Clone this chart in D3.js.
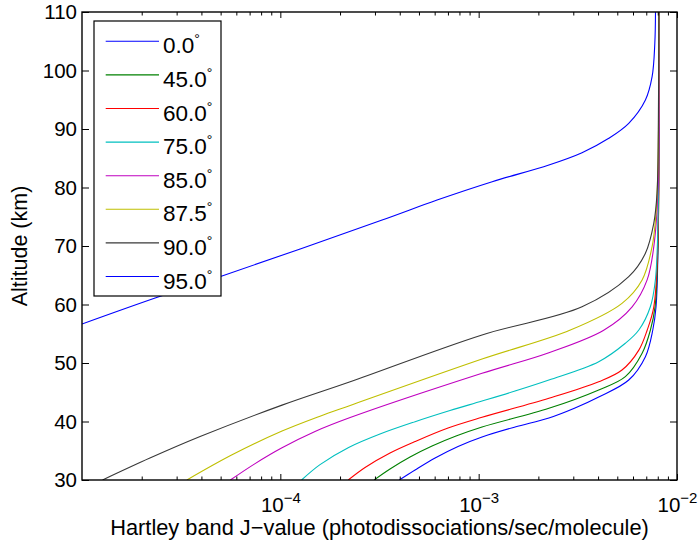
<!DOCTYPE html>
<html>
<head>
<meta charset="utf-8">
<script src="https://cdn.jsdelivr.net/npm/d3@7"></script>
<style>
  body { margin: 0; background: #fff; }
  svg { display: block; font-family: "Liberation Sans", Arial, sans-serif; }
</style>
</head>
<body>
<div id="chart"></div>
<script>
// solar zenith angles and line colours (MATLAB default order)
const zenith_labels = ["0.0", "45.0", "60.0", "75.0", "85.0", "87.5", "90.0", "95.0"];
const line_colors = ["#0000ff", "#008000", "#ff0000", "#00bfbf", "#bf00bf", "#bfbf00", "#383838", "#0000ff"];

const alt_ticks = [30, 40, 50, 60, 70, 80, 90, 100, 110];
const j_ticks = [1e-4, 1e-3, 1e-2];
const j_exponents = ["\u22124", "\u22123", "\u22122"];

// [altitude km, J-value]
const profile_00 = [[30, 3.98e-4], [31.71, 4.78e-4], [33.76, 6.03e-4], [35.73, 7.87e-4], [37.35, 1.04e-3],
  [39.06, 1.526e-3], [40.6, 2.26e-3], [42.31, 3.06e-3], [44.19, 4.03e-3], [47.09, 5.71e-3], [51.08, 6.93e-3],
  [55.64, 7.55e-3], [59.62, 7.84e-3], [70, 8.02e-3], [110, 8.1e-3]];
const profile_45 = [[30, 2.97e-4], [31.88, 3.573e-4], [33.93, 4.508e-4], [35.81, 5.82e-4], [37.52, 7.69e-4],
  [39.06, 1.04e-3], [42.26, 2.26e-3], [45.4, 4.03e-3], [47.66, 5.49e-3], [51.66, 6.67e-3], [55.6, 7.34e-3],
  [59.6, 7.75e-3], [70, 8.02e-3], [110, 8.1e-3]];
const profile_60 = [[30, 2.2e-4], [32.14, 2.674e-4], [34.62, 3.573e-4], [36.58, 4.78e-4], [38.89, 7.01e-4],
  [40.72, 1.04e-3], [43.97, 2.26e-3], [46.8, 4.03e-3], [48.8, 5.28e-3], [52.2, 6.42e-3], [55.6, 7.07e-3],
  [59.6, 7.64e-3], [70, 8.0e-3], [110, 8.1e-3]];
const profile_75 = [[30, 1.28e-4], [32.62, 1.585e-4], [35.56, 2.21e-4], [37.86, 3.18e-4], [39.97, 4.78e-4],
  [41.88, 7.17e-4], [43.5, 1.04e-3], [45.21, 1.526e-3], [47.09, 2.26e-3], [50.22, 4.03e-3], [53.37, 5.49e-3],
  [55.64, 6.42e-3], [59.62, 7.34e-3], [64.19, 7.78e-3], [75, 8.03e-3], [110, 8.1e-3]];
const profile_85 = [[30, 5.6e-5], [32.8, 7.46e-5], [35.5, 1.02e-4], [38.29, 1.496e-4], [40.67, 2.25e-4],
  [48.24, 1.04e-3], [51.76, 2.26e-3], [55.6, 4.27e-3], [59.6, 5.94e-3], [64.2, 7.07e-3], [69.9, 7.64e-3],
  [80, 8.03e-3], [110, 8.1e-3]];
const profile_875 = [[30, 3.38e-5], [34.3, 5.71e-5], [38.36, 1.02e-4], [40.91, 1.585e-4], [42.75, 2.25e-4],
  [50.68, 1.04e-3], [55.64, 2.9e-3], [60.2, 5.28e-3], [64.2, 6.67e-3], [69.9, 7.49e-3], [75.6, 7.84e-3],
  [85, 8.03e-3], [110, 8.1e-3]];
const profile_90 = [[30, 1.27e-5], [33.74, 2.2e-5], [37.42, 3.94e-5], [42.8, 1.02e-4], [46.8, 2.25e-4],
  [54.8, 1.04e-3], [59.6, 3.32e-3], [64.75, 5.71e-3], [68.75, 6.93e-3], [73.9, 7.64e-3], [79, 7.93e-3],
  [90, 8.05e-3], [110, 8.1e-3]];
const profile_95 = [[56.67, 1.0e-5], [61.33, 2.44e-5], [64.87, 5.08e-5], [74.44, 3.26e-4], [77.86, 6.17e-4],
  [80.99, 1.17e-3], [83.85, 2.26e-3], [85.95, 3.32e-3], [88.41, 4.53e-3], [90.97, 5.71e-3], [94.96, 6.93e-3],
  [98.94, 7.49e-3], [104.65, 7.73e-3], [110, 7.79e-3]];

const profiles = [profile_00, profile_45, profile_60, profile_75, profile_85, profile_875, profile_90, profile_95];

const width = 699;
const height = 546;
const margin = { top: 12, right: 22, bottom: 66, left: 82 };

const svg = d3.select("#chart").append("svg")
  .attr("width", width)
  .attr("height", height);

svg.append("rect").attr("width", width).attr("height", height).attr("fill", "#fff");

const x = d3.scaleLog()
  .domain([1e-5, 1e-2])
  .range([margin.left, width - margin.right]);

const y = d3.scaleLinear()
  .domain([30, 110])
  .range([height - margin.bottom, margin.top]);

// minor ticks 2..9 in each decade
const minor_ticks = [];
[1e-5, 1e-4, 1e-3].forEach((d) => {
  for (let k = 2; k <= 9; k++) minor_ticks.push(d * k);
});

svg.append("clipPath").attr("id", "plot-clip")
  .append("rect")
  .attr("x", margin.left).attr("y", margin.top)
  .attr("width", width - margin.left - margin.right)
  .attr("height", height - margin.top - margin.bottom);

const line = d3.line()
  .x((d) => x(d[1]))
  .y((d) => y(d[0]))
  .curve(d3.curveCatmullRom.alpha(0.5));

svg.append("g")
  .attr("clip-path", "url(#plot-clip)")
  .selectAll("path")
  .data(profiles)
  .join("path")
  .attr("fill", "none")
  .attr("stroke", (d, i) => line_colors[i])
  .attr("stroke-width", 1.1)
  .attr("d", line);

// axes: ticks point inward on all four sides
function strip(g) {
  g.select(".domain").remove();
  g.selectAll(".tick line").attr("stroke", "#000").attr("stroke-width", 1);
}

const bottom = height - margin.bottom;
const right = width - margin.right;

svg.append("g")
  .attr("transform", `translate(0,${bottom})`)
  .call(d3.axisBottom(x).tickValues(minor_ticks).tickSize(-3.5).tickFormat(""))
  .call(strip);
svg.append("g")
  .attr("transform", `translate(0,${margin.top})`)
  .call(d3.axisTop(x).tickValues(minor_ticks).tickSize(-3.5).tickFormat(""))
  .call(strip);
svg.append("g")
  .attr("transform", `translate(0,${margin.top})`)
  .call(d3.axisTop(x).tickValues(j_ticks).tickSize(-6).tickFormat(""))
  .call(strip);

const x_axis = svg.append("g")
  .attr("transform", `translate(0,${bottom})`)
  .call(d3.axisBottom(x).tickValues(j_ticks).tickSize(-6))
  .call(strip);

x_axis.selectAll(".tick text")
  .attr("y", 31.7)
  .attr("dy", null)
  .attr("fill", "#000")
  .style("font-size", "20.5px")
  .each(function (d, i) {
    const t = d3.select(this);
    t.text(null);
    t.append("tspan").text("10");
    t.append("tspan").attr("dy", -8.5).style("font-size", "15px").text(j_exponents[i]);
  });

svg.append("g")
  .attr("transform", `translate(${margin.left},0)`)
  .call(d3.axisLeft(y).tickValues(alt_ticks).tickSize(-7).tickPadding(5))
  .call(strip)
  .selectAll(".tick text")
  .attr("fill", "#000")
  .style("font-size", "20.5px");

svg.append("g")
  .attr("transform", `translate(${right},0)`)
  .call(d3.axisRight(y).tickValues(alt_ticks).tickSize(-7).tickFormat(""))
  .call(strip);

// box
svg.append("rect")
  .attr("x", margin.left).attr("y", margin.top)
  .attr("width", right - margin.left)
  .attr("height", bottom - margin.top)
  .attr("fill", "none")
  .attr("stroke", "#000")
  .attr("stroke-width", 1.4);

// axis titles
svg.append("text")
  .attr("x", (margin.left + right) / 2)
  .attr("y", 535)
  .attr("text-anchor", "middle")
  .style("font-size", "21.8px")
  .text("Hartley band J\u2212value (photodissociations/sec/molecule)");

svg.append("text")
  .attr("transform", `translate(27,${(margin.top + bottom) / 2}) rotate(-90)`)
  .attr("text-anchor", "middle")
  .style("font-size", "21.5px")
  .text("Altitude (km)");

// legend
const legend = svg.append("g");
legend.append("rect")
  .attr("x", 94).attr("y", 21)
  .attr("width", 127).attr("height", 275)
  .attr("fill", "#fff")
  .attr("stroke", "#000")
  .attr("stroke-width", 1.2);

const entry = legend.selectAll("g.entry")
  .data(zenith_labels)
  .join("g")
  .attr("class", "entry")
  .attr("transform", (d, i) => `translate(0,${41.3 + 33.6 * i})`);

entry.append("line")
  .attr("x1", 105.7).attr("x2", 159)
  .attr("stroke", (d, i) => line_colors[i])
  .attr("stroke-width", 1.1);

const label = entry.append("text")
  .attr("x", 163)
  .attr("y", 12)
  .style("font-size", "22.5px");
label.append("tspan").text((d) => d);
label.append("tspan").attr("dy", -9).style("font-size", "14px").text("\u00b0");
</script>
</body>
</html>
